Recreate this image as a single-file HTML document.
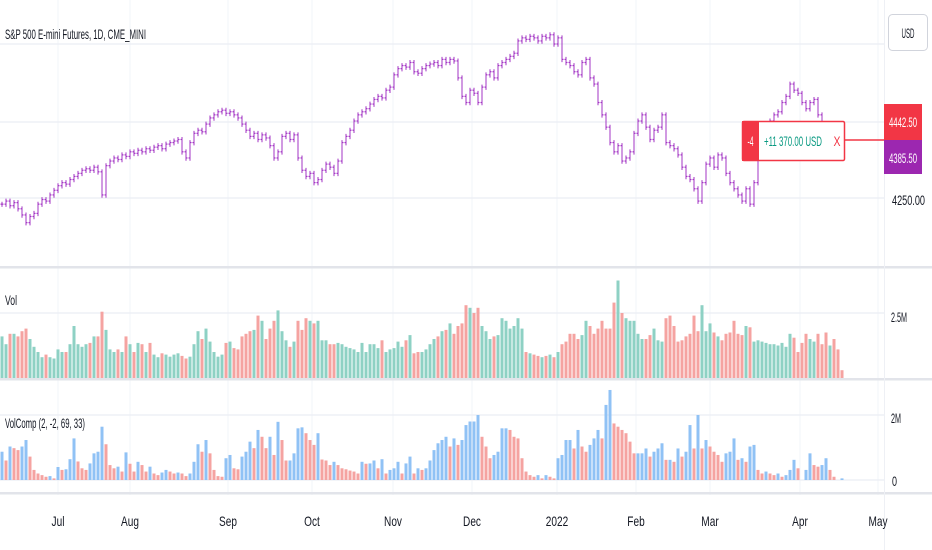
<!DOCTYPE html>
<html><head><meta charset="utf-8"><style>
html,body{margin:0;padding:0;background:#fff;width:932px;height:550px;overflow:hidden}
svg{display:block;font-family:"Liberation Sans",sans-serif}
</style></head><body>
<svg id="chart" width="932" height="550" viewBox="0 0 932 550" xmlns="http://www.w3.org/2000/svg">
<g id="grid"></g>
<g id="price"></g>
<g id="vol"></g>
<g id="vc"></g>
<g id="axes"></g>
</svg>
<script>
const closes=[4230,4240,4225,4235,4215,4195,4170,4190,4200,4230,4245,4240,4260,4275,4290,4300,4295,4310,4320,4330,4340,4345,4340,4350,4335,4260,4355,4370,4380,4375,4390,4385,4400,4395,4405,4400,4410,4405,4415,4420,4410,4425,4430,4435,4440,4400,4380,4430,4460,4470,4465,4490,4510,4520,4530,4535,4525,4530,4520,4510,4490,4470,4450,4460,4440,4455,4445,4420,4380,4400,4450,4460,4440,4455,4380,4340,4320,4330,4300,4310,4340,4360,4350,4330,4370,4430,4450,4470,4500,4520,4530,4540,4555,4570,4580,4575,4600,4610,4650,4670,4680,4675,4690,4660,4655,4670,4680,4685,4690,4680,4700,4690,4700,4695,4640,4580,4560,4600,4590,4560,4610,4650,4660,4640,4680,4690,4700,4710,4720,4760,4770,4765,4775,4770,4760,4775,4770,4780,4750,4770,4700,4690,4680,4660,4650,4690,4700,4640,4620,4560,4520,4480,4430,4400,4420,4370,4380,4400,4460,4500,4520,4480,4440,4470,4480,4520,4430,4420,4410,4390,4350,4320,4310,4280,4240,4300,4360,4380,4350,4390,4380,4330,4300,4280,4260,4240,4280,4230,4300,4380,4420,4460,4500,4520,4530,4560,4580,4620,4600,4590,4560,4540,4560,4570,4520,4480,4460,4470,4420,4400,4385.5];
const volume=[1.6,1.3,1.7,1.7,1.6,1.8,1.9,1.5,1.2,1.0,0.8,0.9,0.8,0.75,1.1,1.0,1.0,1.3,2.0,1.3,1.2,1.3,1.35,1.6,1.6,2.55,1.85,1.1,1.0,1.1,1.0,1.6,1.3,1.0,1.35,1.3,1.0,1.35,0.9,0.8,0.95,0.9,0.82,0.9,0.95,0.85,0.75,0.82,1.3,1.8,1.5,1.9,1.4,1.0,0.82,0.9,1.35,1.4,1.15,1.1,1.6,1.7,1.8,1.85,2.4,2.2,1.5,1.9,2.2,2.6,1.8,1.45,1.2,1.4,2.2,1.85,2.3,2.2,2.1,2.2,1.45,1.45,1.3,1.3,1.35,1.3,1.2,1.15,1.1,1.0,1.35,1.0,1.3,1.3,1.15,1.45,1.0,1.1,1.15,1.4,1.2,1.45,1.65,0.95,1.0,1.0,1.1,1.3,1.5,1.6,1.8,1.85,2.1,1.7,2.0,2.1,2.8,2.7,2.5,2.7,2.0,1.8,1.5,1.6,1.65,2.3,2.2,1.9,2.0,2.3,1.9,1.0,0.95,0.9,0.85,0.8,0.85,0.9,0.8,1.0,1.3,1.4,1.7,1.7,1.5,1.65,2.2,2.0,1.7,1.9,2.2,1.9,1.9,2.9,3.75,2.5,2.3,2.2,2.2,1.7,1.5,1.5,1.65,1.9,1.45,1.4,2.3,2.4,2.0,1.4,1.45,1.6,1.7,2.4,1.8,2.8,1.8,2.1,1.75,1.6,1.45,1.7,1.75,2.2,1.7,1.65,2.0,1.95,1.4,1.45,1.4,1.35,1.3,1.3,1.25,1.35,1.2,1.7,1.55,1.0,1.35,1.7,1.5,1.4,1.7,1.3,1.75,1.25,1.5,1.1,0.3];
const volComp=[0.87,0.6,1.03,0.98,0.92,1.03,1.23,0.72,0.31,0.2,0.15,0.1,0.12,0.05,0.4,0.31,0.33,0.64,1.28,0.57,0.36,0.31,0.51,0.82,0.87,1.64,1.1,0.46,0.36,0.41,0.26,0.85,0.5,0.26,0.56,0.46,0.26,0.41,0.2,0.15,0.23,0.31,0.26,0.2,0.23,0.2,0.12,0.2,0.56,1.1,0.87,1.23,0.82,0.31,0.12,0.1,0.67,0.77,0.36,0.33,0.72,0.87,1.18,0.98,1.54,1.33,0.98,1.33,0.77,1.79,1.23,0.6,0.6,0.82,1.59,1.62,1.44,1.23,1.08,1.44,0.63,0.6,0.46,0.56,0.46,0.36,0.33,0.29,0.26,0.2,0.56,0.5,0.51,0.6,0.36,0.64,0.2,0.31,0.36,0.56,0.2,0.51,0.72,0.2,0.36,0.31,0.36,0.6,0.92,1.13,1.23,1.33,1.03,1.28,1.08,1.23,1.69,1.8,1.8,2.0,1.33,1.03,0.67,0.77,0.87,1.59,1.59,1.54,1.33,1.28,0.67,0.26,0.15,0.1,0.15,0.05,0.15,0.1,0.05,0.67,0.77,1.23,1.23,0.97,1.54,1.03,0.87,1.08,1.28,1.54,1.28,2.31,2.77,1.74,1.64,1.54,1.44,1.18,0.82,0.82,0.82,0.97,0.72,0.87,0.97,1.13,0.62,0.62,0.56,0.97,0.72,0.87,1.69,0.97,2.0,0.97,1.23,1.03,0.87,0.77,0.56,0.82,0.87,1.28,0.62,0.67,0.56,1.03,1.08,0.31,0.2,0.26,0.2,0.15,0.2,0.1,0.15,0.31,0.62,0.36,0.0,0.31,0.82,0.46,0.41,0.46,0.67,0.31,0.1,0.0,0.05];
const monthLabels=["Jul","Aug","Sep","Oct","Nov","Dec","2022","Feb","Mar","Apr","May"];
const monthX=[58,130,228,312,393,472,557,636,710,800,878];

const NS="http://www.w3.org/2000/svg";
function el(tag,attrs,parent,text){const e=document.createElementNS(NS,tag);for(const k in attrs)e.setAttribute(k,attrs[k]);if(text!==undefined)e.textContent=text;parent.appendChild(e);return e;}
function narrow(t){const w=t.getComputedTextLength();t.setAttribute('textLength',(w*0.72).toFixed(1));t.setAttribute('lengthAdjust','spacingAndGlyphs');}
const xOf=i=>2+i*4;
const yPrice=p=>198-(p-4250)*77/250;
const yVol=v=>378-v*26;
const yVC=v=>480-v*32.5;
const G=document.getElementById('grid'),P=document.getElementById('price'),V=document.getElementById('vol'),C=document.getElementById('vc'),A=document.getElementById('axes');

monthX.forEach(x=>{el('line',{x1:x,y1:0,x2:x,y2:495,stroke:'#f2f4f9','stroke-width':1},G);});
[44,122,198,313,415,480].forEach(y=>{el('line',{x1:0,y1:y,x2:884,y2:y,stroke:'#eef0f5','stroke-width':1.5},G);});

closes.forEach((c,i)=>{
  const o=i?closes[i-1]:c, x=xOf(i);
  const hi=Math.max(o,c)+8, lo=Math.min(o,c)-9;
  const g=el('g',{},P);
  
  
  el('line',{x1:x,y1:yPrice(hi),x2:x,y2:yPrice(lo),stroke:'#a336c4','stroke-width':1},g);
  el('line',{x1:x-1.5,y1:yPrice(o),x2:x,y2:yPrice(o),stroke:'#a336c4','stroke-width':1.2},g);
  el('line',{x1:x,y1:yPrice(c),x2:x+1.5,y2:yPrice(c),stroke:'#a336c4','stroke-width':1.2},g);
});
volume.forEach((v,i)=>{
  const up=i===0||closes[i]>=closes[i-1];
  const r=el('rect',{x:xOf(i)-1.5,y:yVol(v),width:3,height:v*26,fill:up?'#8ed1c4':'#f5a3a1'},V);
  
  
});
volComp.forEach((v,i)=>{
  const up=i===0||v>=volComp[i-1];
  const r=el('rect',{x:xOf(i)-1.5,y:yVC(v),width:3,height:v*32.5,fill:up?'#90c2f5':'#f5a3a1'},C);
  
  
});

[267,379,493].forEach(y=>{el('rect',{x:0,y:y-1,width:932,height:2.5,fill:'#e2e4ea'},A);});
el('line',{x1:884.5,y1:0,x2:884.5,y2:550,stroke:'#eef0f5'},A);

let t;
t=el('text',{x:5,y:39,'font-size':14,fill:'#131722',textLength:141,lengthAdjust:'spacingAndGlyphs'},A,'S&P 500 E-mini Futures, 1D, CME_MINI');

t=el('text',{x:5,y:305,'font-size':14,fill:'#131722',textLength:12,lengthAdjust:'spacingAndGlyphs'},A,'Vol');

t=el('text',{x:5,y:428,'font-size':14,fill:'#131722',textLength:80,lengthAdjust:'spacingAndGlyphs'},A,'VolComp (2, -2, 69, 33)');


t=el('text',{x:892,y:205,'font-size':14,fill:'#131722',textLength:33,lengthAdjust:'spacingAndGlyphs'},A,'4250.00');

t=el('text',{x:891,y:322,'font-size':14,fill:'#131722',textLength:16,lengthAdjust:'spacingAndGlyphs'},A,'2.5M');

t=el('text',{x:891,y:423,'font-size':14,fill:'#131722',textLength:10,lengthAdjust:'spacingAndGlyphs'},A,'2M');

t=el('text',{x:892,y:486,'font-size':14,fill:'#131722',textLength:5,lengthAdjust:'spacingAndGlyphs'},A,'0');


monthLabels.forEach((m,i)=>{
  const tx=el('text',{x:monthX[i],y:526,'font-size':14,fill:'#131722','text-anchor':'middle'},A,m);
  
  
  narrow(tx);
});

const ub=el('g',{},A);
el('rect',{x:888.5,y:14.5,width:39,height:36,rx:4,fill:'#fff',stroke:'#d1d4dc'},ub);
el('text',{x:908,y:38,'font-size':14,fill:'#131722','text-anchor':'middle',textLength:13,lengthAdjust:'spacingAndGlyphs'},ub,'USD');

const pl=el('g',{},A);
el('rect',{x:884,y:104,width:38,height:36,fill:'#f23645'},pl);
el('text',{x:903,y:127,'font-size':14,fill:'#fff','text-anchor':'middle',textLength:28,lengthAdjust:'spacingAndGlyphs'},pl,'4442.50');
el('rect',{x:884,y:140,width:38,height:34,fill:'#9c27b0'},pl);
el('text',{x:903,y:163,'font-size':14,fill:'#fff','text-anchor':'middle',textLength:28,lengthAdjust:'spacingAndGlyphs'},pl,'4385.50');

const pos=el('g',{},A);
el('line',{x1:845,y1:140,x2:884,y2:140,stroke:'#f23645','stroke-width':1.5},pos);
el('rect',{x:742.5,y:121.5,width:102,height:39,fill:'#fff',stroke:'#f23645','stroke-width':1.5,rx:1.5},pos);
el('rect',{x:742,y:121,width:17,height:40,fill:'#f23645'},pos);
el('text',{x:750.5,y:146,'font-size':14,fill:'#fff','text-anchor':'middle',textLength:6,lengthAdjust:'spacingAndGlyphs'},pos,'-4');
el('text',{x:764,y:146,'font-size':14,fill:'#089981',textLength:58,lengthAdjust:'spacingAndGlyphs'},pos,'+11 370.00 USD');
const cx=el('text',{x:837,y:146,'font-size':14,fill:'#f23645','text-anchor':'middle',textLength:7,lengthAdjust:'spacingAndGlyphs'},pos,'X');


</script>
</body></html>
